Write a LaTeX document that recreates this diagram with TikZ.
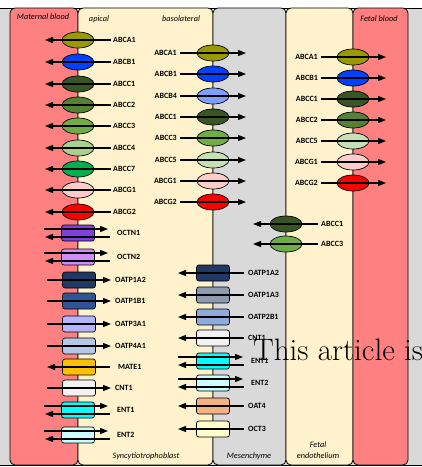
\documentclass[tikz,border=0pt]{standalone}
\usepackage{fontspec}
\newfontfamily\lblfont{Carlito}
\usetikzlibrary{arrows.meta,shapes.geometric}

\definecolor{cBlood}{RGB}{255,128,128}
\definecolor{cCream}{RGB}{255,242,204}
\definecolor{cMes}{RGB}{217,217,217}
\definecolor{cABCA1}{RGB}{153,153,0}
\definecolor{cABCB1}{RGB}{0,64,255}
\definecolor{cABCB4}{RGB}{128,160,255}
\definecolor{cABCC1}{RGB}{55,86,35}
\definecolor{cABCC2}{RGB}{84,130,53}
\definecolor{cABCC3}{RGB}{112,173,71}
\definecolor{cABCC4}{RGB}{169,209,142}
\definecolor{cABCC5}{RGB}{197,224,180}
\definecolor{cABCC7}{RGB}{0,176,80}
\definecolor{cABCG1}{RGB}{255,204,204}
\definecolor{cABCG2}{RGB}{255,0,0}
\definecolor{cOCTN1}{RGB}{128,64,224}
\definecolor{cOCTN2}{RGB}{208,140,255}
\definecolor{cOATP1A2}{RGB}{31,56,100}
\definecolor{cOATP1B1}{RGB}{47,85,151}
\definecolor{cOATP1A3}{RGB}{142,154,175}
\definecolor{cOATP2B1}{RGB}{143,170,220}
\definecolor{cOATP3A1}{RGB}{180,180,255}
\definecolor{cOATP4A1}{RGB}{180,199,231}
\definecolor{cMATE1}{RGB}{255,192,0}
\definecolor{cCNT1}{RGB}{242,242,242}
\definecolor{cENT1}{RGB}{0,255,255}
\definecolor{cENT2}{RGB}{204,255,255}
\definecolor{cOAT4}{RGB}{244,177,131}
\definecolor{cOCT3}{RGB}{255,255,204}

\tikzset{
  abc/.style={ellipse, draw, line width=0.7pt, minimum width=32pt, minimum height=16pt, inner sep=0pt},
  slc/.style={rectangle, rounded corners=2.5pt, draw, line width=0.7pt, minimum width=33pt, minimum height=16pt, inner sep=0pt},
  flux/.style={line width=1.3pt, -{Triangle[length=8pt,width=6pt]}},
  tname/.style={font=\lblfont\bfseries\fontsize{8}{9}\selectfont, inner sep=0pt},
  zone/.style={font=\lblfont\itshape\fontsize{8.3}{11}\selectfont, inner sep=0pt, align=center},
  panel/.style={draw, line width=0.8pt, rounded corners=5pt},
}

\begin{document}
\begin{tikzpicture}[x=1pt,y=-1pt]
    \useasboundingbox (0,0) rectangle (422,467);
    \fill[cMes] (0,8) rectangle (422,465);
    \draw[line width=0.8pt] (0,8) -- (422,8) (0,465) -- (422,465);

    % compartments
    \draw[panel, fill=cBlood] (10,8) rectangle (78,465);
    \draw[panel, fill=cCream] (78,8) rectangle (213,465);
    \draw[panel, fill=cMes] (213,8) rectangle (286,465);
    \draw[panel, fill=cCream] (286,8) rectangle (353,465);
    \draw[panel, fill=cBlood] (353,8) rectangle (408,465);

    \node[zone] (matb) at (43,17) {Maternal blood};
    \node[zone] (apic) at (99,19) {apical};
    \node[zone] (baso) at (181,19) {basolateral};
    \node[zone] (fetb) at (379,19) {Fetal blood};
    \node[zone] (sync) at (146,456) {Syncytiotrophoblast};
    \node[zone] (mesc) at (249,456) {Mesenchyme};
    \node[zone] (fend) at (318,450) {Fetal\\endothelium};

    % apical membrane, efflux
    \foreach \n/\y in {ABCA1/40,ABCB1/62,ABCC1/84,ABCC2/105,ABCC3/126,ABCC4/148,ABCC7/169,ABCG1/190,ABCG2/212} {
        \node[abc, fill=c\n] (A-\n) at (78,\y) {};
        \node[tname, anchor=west] (A-\n-t) at (113,\y) {\n};
        \coordinate (A-\n-a) at (45,\y);
        \draw[flux, shorten <=2pt] (A-\n-t.west) -- (A-\n-a);
    }
    % apical membrane, uptake
    \foreach \n/\y in {OATP1A2/280,OATP1B1/301,OATP3A1/324,OATP4A1/346,CNT1/388} {
        \node[slc, fill=c\n] (A-\n) at (79,\y) {};
        \node[tname, anchor=west] (A-\n-t) at (115,\y) {\n};
        \coordinate (A-\n-a) at (47,\y);
        \draw[flux, shorten >=4pt] (A-\n-a) -- (A-\n-t.west);
    }
    \node[slc, fill=cMATE1] (A-MATE1) at (79,367) {};
    \node[tname, anchor=west] (A-MATE1-t) at (118,367) {MATE1};
    \coordinate (A-MATE1-a) at (47,367);
    \draw[flux, shorten <=8pt] (A-MATE1-t.west) -- (A-MATE1-a);
    % apical membrane, both ways
    \foreach \n/\y in {OCTN1/233,OCTN2/257,ENT1/410,ENT2/435} {
        \node[slc, fill=c\n] (A-\n) at (78,\y) {};
        \node[tname, anchor=west] (A-\n-t) at (117,\y) {\n};
        \coordinate (A-\n-a) at (44,\y-4);
        \coordinate (A-\n-b) at (108,\y-4);
        \coordinate (A-\n-c) at (110,\y+4);
        \coordinate (A-\n-d) at (45,\y+4);
        \draw[flux] (A-\n-a) -- (A-\n-b);
        \draw[flux] (A-\n-c) -- (A-\n-d);
    }

    % basolateral membrane, efflux
    \foreach \n/\y in {ABCA1/53,ABCB1/74,ABCB4/96,ABCC1/117,ABCC3/138,ABCC5/160,ABCG1/181,ABCG2/202} {
        \node[abc, fill=c\n] (B-\n) at (213,\y) {};
        \node[tname, anchor=east] (B-\n-t) at (177,\y) {\n};
        \coordinate (B-\n-a) at (246,\y);
        \draw[flux, shorten <=3pt] (B-\n-t.east) -- (B-\n-a);
    }
    % basolateral membrane, uptake
    \foreach \n/\y in {OATP1A2/273,OATP1A3/295,OATP2B1/317,CNT1/338,OAT4/406,OCT3/429} {
        \node[slc, fill=c\n] (B-\n) at (213,\y) {};
        \node[tname, anchor=west] (B-\n-t) at (248,\y) {\n};
        \coordinate (B-\n-a) at (178,\y);
        \draw[flux, shorten <=4pt] (B-\n-t.west) -- (B-\n-a);
    }
    \foreach \n/\y in {ENT1/361,ENT2/383} {
        \node[slc, fill=c\n] (B-\n) at (213,\y) {};
        \node[tname, anchor=west] (B-\n-t) at (251,\y) {\n};
        \coordinate (B-\n-a) at (178,\y-4);
        \coordinate (B-\n-b) at (243,\y-4);
        \coordinate (B-\n-c) at (244,\y+4);
        \coordinate (B-\n-d) at (178,\y+4);
        \draw[flux] (B-\n-a) -- (B-\n-b);
        \draw[flux] (B-\n-c) -- (B-\n-d);
    }

    % fetal endothelium
    \foreach \n/\y in {ABCC1/224,ABCC3/244} {
        \node[abc, fill=c\n] (E-\n) at (286,\y) {};
        \node[tname, anchor=west] (E-\n-t) at (321,\y) {\n};
        \coordinate (E-\n-a) at (253,\y);
        \draw[flux, shorten <=3pt] (E-\n-t.west) -- (E-\n-a);
    }
    \foreach \n/\y in {ABCA1/57,ABCB1/78,ABCC1/99,ABCC2/120,ABCC5/141,ABCG1/162,ABCG2/183} {
        \node[abc, fill=c\n] (F-\n) at (353,\y) {};
        \node[tname, anchor=east] (F-\n-t) at (318,\y) {\n};
        \coordinate (F-\n-a) at (386,\y);
        \draw[flux, shorten <=3pt] (F-\n-t.east) -- (F-\n-a);
    }

    \node[font=\fontsize{31}{32}\selectfont, anchor=base west, inner sep=0pt] (note) at (253,360) {This article is};
\end{tikzpicture}
\end{document}
